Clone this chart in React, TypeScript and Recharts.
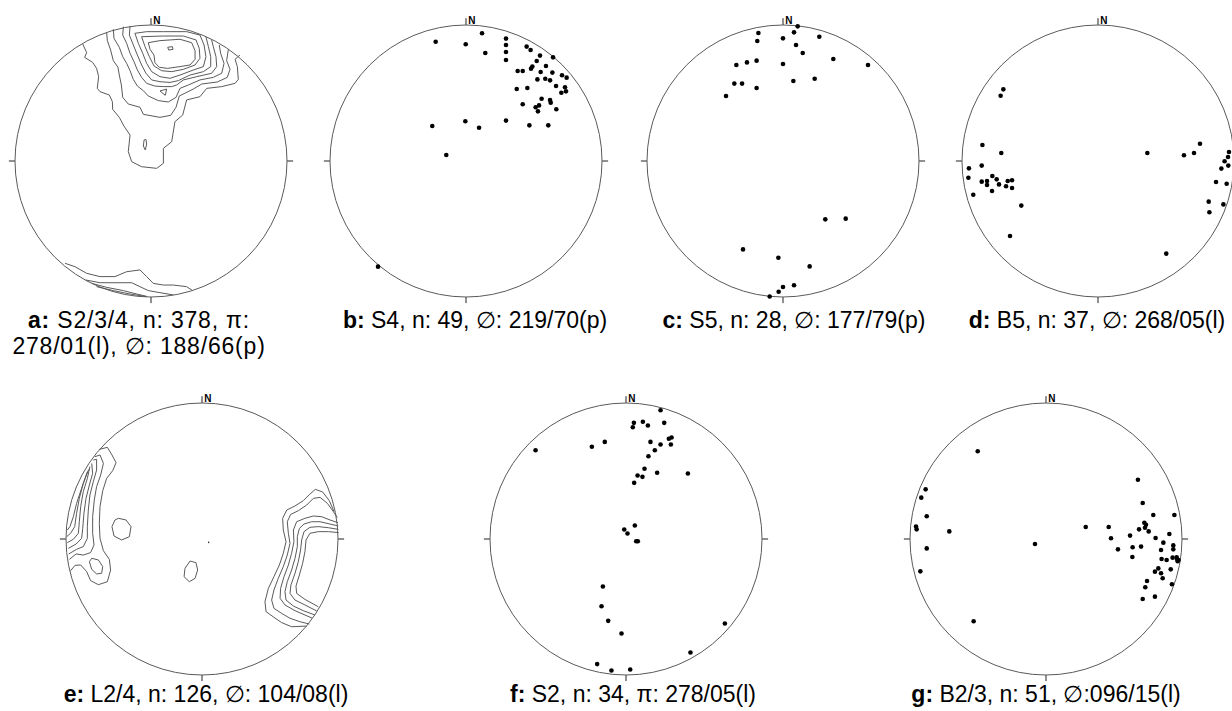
import { ScatterChart, Scatter, XAxis, YAxis, ReferenceDot, ReferenceLine } from 'recharts';

type P = [number, number];

// all plot coordinates are in % of the primitive radius, N up / E right

// b: S4 poles
const POINTS_B: P[] = [
  [-22.3, 87.7], [-0.2, 85.8], [11.8, 93.9], [14.2, 79.4], [29.4, 90.0], [29.4, 85.3], [29.4, 80.1], [29.4, 74.3],
  [44.6, 84.1], [47.5, 81.6], [54.4, 77.5], [64.0, 76.2], [52.0, 73.5], [48.8, 69.4], [47.8, 67.9], [58.8, 69.9],
  [38.0, 66.2], [41.7, 66.2], [54.9, 65.4], [63.5, 65.0], [70.6, 63.0], [74.0, 61.3], [52.5, 60.0], [58.3, 60.5],
  [61.8, 59.3], [66.2, 55.1], [72.8, 54.2], [73.5, 51.2], [70.1, 50.2], [37.3, 52.9], [45.1, 53.7], [55.6, 45.8],
  [61.8, 44.9], [62.3, 42.9], [53.7, 40.9], [51.2, 39.5], [52.9, 36.5], [66.4, 38.0], [41.7, 41.7], [29.4, 29.7],
  [46.6, 26.2], [60.5, 26.2], [-0.5, 29.2], [9.6, 24.5], [-24.8, 25.7], [-14.5, 4.4], [-64.7, -77.7],
];

// c: S5 poles
const POINTS_C: P[] = [
  [-18.1, 94.1], [-18.9, 88.2], [0, 90.2], [8.1, 94.6], [10.8, 99.0], [26.7, 91.4], [9.6, 85.3], [14.5, 79.4],
  [37.0, 75.0], [62.5, 70.6], [-34.3, 70.6], [-26.5, 72.5], [-19.4, 73.8], [0, 71.3], [-35.8, 56.9], [-30.1, 56.9],
  [-19.4, 53.7], [7.6, 58.8], [23.3, 60.5], [-41.9, 47.8], [31.1, -42.9], [46.1, -42.4], [-29.4, -65.0],
  [-3.4, -71.1], [19.6, -77.5], [8.1, -91.4], [0, -92.6], [-3.2, -96.1], [-9.8, -99.6],
];

// d: B5 fold axes
const POINTS_D: P[] = [
  [-69.6, 52.7], [-71.6, 48.0], [-85.0, 11.8], [-71.1, 5.9], [-85.5, -3.4], [-94.9, -5.4], [-95.3, -12.3],
  [-91.7, -24.8], [-85.5, -15.2], [-81.6, -14.7], [-81.6, -17.6], [-77.7, -11.0], [-74.5, -13.5], [-77.9, -22.1],
  [-72.8, -17.2], [-67.6, -18.6], [-66.4, -14.7], [-63.2, -14.2], [-63.2, -19.9], [-56.4, -32.8], [-64.7, -55.1],
  [36.3, 5.9], [63.2, 4.2], [70.6, 5.9], [75.0, 12.7], [96.3, 6.6], [95.6, 2.9], [93.1, -0.2], [95.8, -3.4],
  [90.7, -5.6], [86.8, -15.4], [94.6, -16.7], [81.4, -29.9], [81.9, -37.7], [92.2, -31.9], [50.2, -68.1],
];

// f: S2 poles
const POINTS_F: P[] = [
  [25.4, 94.7], [5.8, 85.4], [5.0, 82.2], [12.4, 86.2], [16.1, 83.5], [28.1, 85.4], [31.5, 73.7], [33.5, 74.6],
  [33.0, 69.5], [25.4, 69.5], [18.0, 71.4], [21.2, 65.3], [16.5, 60.9], [-15.6, 71.4], [-25.1, 67.8], [-66.5, 65.3],
  [13.6, 51.6], [8.5, 46.7], [12.1, 45.7], [22.9, 48.7], [6.0, 41.3], [45.5, 48.2], [6.5, 9.9], [-1.3, 7.0],
  [1.1, 4.0], [7.5, -1.6], [8.7, -1.6], [-17.0, -34.9], [-18.0, -49.4], [-13.1, -60.2], [-3.3, -69.5],
  [72.7, -62.1], [47.4, -83.5], [-21.2, -92.0], [-10.7, -96.7], [3.1, -96.0],
];

// g: B2/3 fold axes
const POINTS_G: P[] = [
  [-50.2, 64.5], [-88.5, 36.5], [-91.7, 30.4], [-87.7, 16.7], [-95.6, 9.1], [-95.1, 7.1], [-71.1, 5.6],
  [-87.7, -6.9], [-92.4, -23.8], [-8.1, -3.7], [-53.2, -60.5], [29.2, 8.8], [46.1, 8.8], [47.8, 0.5], [52.9, -7.6],
  [61.8, 2.5], [63.7, -6.1], [63.5, -13.2], [67.6, 43.6], [71.1, 26.5], [72.3, 12.0], [73.5, 10.5], [72.8, 8.3],
  [75.5, 5.6], [68.4, 7.1], [69.9, -5.6], [78.9, 17.6], [80.6, 0.7], [86.3, -2.7], [90.7, 3.7], [94.4, 17.6],
  [93.6, -4.7], [93.6, -7.6], [84.6, -8.1], [85.0, -14.7], [88.7, -15.4], [93.1, -13.7], [96.1, -13.5],
  [96.8, -16.4], [91.7, -22.3], [82.6, -21.6], [80.1, -24.0], [84.6, -25.2], [85.8, -28.9], [74.3, -30.9],
  [73.0, -35.5], [71.1, -44.1], [80.1, -42.4], [92.6, -33.3], [97.5, -15.4], [96.3, -14.7],
];

// a: S2/3/4 density contours
const A_L1: P[] = [
  [-50.2, 86.0], [-47.3, 79.7], [-48.8, 76.2], [-42.9, 72.5], [-40.0, 68.1], [-38.5, 62.0], [-39.5, 53.4],
  [-37.5, 51.0], [-30.6, 48.5], [-28.4, 43.6], [-28.2, 38.0], [-23.3, 32.1], [-19.9, 25.7], [-15.4, 19.1],
  [-16.7, 6.9], [-14.2, -0.5], [-6.9, -4.2], [4.2, -5.4], [9.1, -1.7], [9.1, 9.3], [15.2, 14.2], [17.6, 28.9],
  [23.3, 33.8], [26.2, 44.9], [36.0, 47.3], [40.9, 53.4], [52.0, 54.7], [61.8, 57.1], [64.2, 60.0], [63.5, 69.4],
  [61.8, 74.8], [65.4, 77.9],
];
const A_L2: P[] = [
  [-32.6, 94.4], [-32.1, 88.5], [-29.7, 81.6], [-27.7, 73.8], [-24.3, 68.9], [-23.3, 63.2], [-21.8, 55.9],
  [-20.8, 46.8], [-16.7, 41.9], [-8.1, 39.5], [-5.6, 34.3], [6.6, 32.1], [14.5, 33.6], [18.4, 39.5], [20.8, 47.8],
  [31.1, 52.9], [37.3, 56.6], [48.8, 58.1], [56.1, 61.5], [58.1, 67.4], [55.6, 73.8], [56.9, 82.1],
];
const A_L3: P[] = [
  [-27.7, 96.8], [-27.2, 90.2], [-23.3, 83.6], [-20.8, 76.7], [-17.9, 71.8], [-15.4, 66.4], [-13.0, 60.0],
  [-10.0, 55.1], [-5.6, 51.7], [-2.0, 47.8], [5.4, 44.4], [12.7, 43.4], [18.4, 46.8], [21.3, 53.4], [27.5, 55.9],
  [36.0, 59.6], [45.8, 61.5], [52.0, 64.5], [53.7, 71.8], [51.2, 79.2], [50.2, 85.3],
];
const A_L4: P[] = [
  [-20.3, 98.8], [-20.8, 92.6], [-17.9, 86.5], [-15.4, 79.2], [-12.5, 73.0], [-10.0, 66.9], [-6.9, 61.5],
  [-3.2, 57.1], [2.9, 55.1], [9.1, 54.7], [15.2, 54.7], [18.9, 55.9], [23.8, 59.6], [33.6, 62.0], [44.6, 64.5],
  [48.3, 69.4], [47.8, 76.7], [45.8, 84.1], [44.6, 89.0],
];
const A_L5: P[] = [
  [-15.4, 99.3], [-15.9, 92.6], [-13.0, 85.3], [-10.0, 77.9], [-6.9, 70.6], [-3.7, 64.5], [0.5, 59.6],
  [6.6, 58.3], [14.0, 57.8], [20.1, 59.1], [28.7, 63.2], [38.5, 65.7], [43.9, 69.4], [43.9, 76.7], [42.2, 84.1],
  [40.4, 91.4],
];
const A_L6: P[] = [
  [-11.8, 93.9], [-9.3, 86.5], [-6.1, 79.2], [-3.2, 71.8], [0.5, 65.7], [6.6, 62.0], [14.0, 60.8], [21.3, 63.2],
  [31.1, 66.9], [38.5, 69.4], [40.4, 76.7], [39.0, 85.3], [36.0, 92.6], [26.2, 95.1], [9.1, 95.1], [-3.2, 95.1],
  [-11.8, 93.9],
];
const A_L7: P[] = [
  [-6.9, 91.4], [-4.4, 84.1], [-1.2, 76.7], [2.2, 69.9], [7.8, 66.4], [15.2, 65.7], [23.8, 67.4], [32.4, 70.6],
  [36.0, 75.5], [35.5, 82.8], [33.1, 89.0], [23.8, 91.9], [9.1, 91.9], [-6.9, 91.4],
];
const A_L8: P[] = [
  [-2.0, 87.0], [6.6, 88.5], [21.3, 89.5], [29.9, 87.0], [32.4, 81.1], [32.4, 74.8], [28.7, 70.6], [21.3, 69.4],
  [12.0, 68.1], [6.1, 68.9], [2.9, 72.3], [2.2, 77.9], [-0.7, 82.1], [-2.0, 87.0],
];
const A_PEAK: P[] = [[12.3, 83.6], [15.7, 84.1], [16.2, 82.1], [13.0, 81.6], [12.3, 83.6]];
const A_TRI: P[] = [[6.6, 51.5], [11.5, 52.9], [10.5, 48.3], [6.6, 51.5]];
const A_STEM: P[] = [[-5.1, 15.4], [-3.7, 15.9], [-3.2, 12.5], [-4.2, 8.1], [-5.6, 11.0], [-5.1, 15.4]];
const A_S1: P[] = [
  [-63.2, -75.2], [-55.9, -77.7], [-47.3, -82.6], [-37.5, -85.0], [-26.5, -85.0], [-17.9, -81.4], [-8.1, -80.1],
  [-3.2, -85.0], [1.7, -90.0], [9.1, -91.2], [16.4, -91.2], [26.2, -92.4], [30.6, -95.3],
];
const A_S2: P[] = [
  [-48.0, -87.5], [-37.5, -89.5], [-26.5, -89.5], [-14.2, -89.5], [-8.1, -92.4], [-2.0, -95.3], [6.6, -96.8],
  [16.4, -98.5],
];
const A_S3: P[] = [[-43.6, -90.0], [-32.6, -92.9], [-20.3, -95.3], [-10.5, -97.8], [-3.2, -99.5]];
const A_S4: P[] = [[-40.0, -92.4], [-27.7, -95.3], [-15.4, -97.8], [-3.2, -99.8]];

// e: L2/4 density contours
const E_W1: P[] = [
  [-75.5, 65.9], [-69.6, 67.4], [-66.2, 61.8], [-63.2, 56.1], [-65.7, 50.2], [-70.1, 44.6], [-73.0, 35.5],
  [-75.0, 23.8], [-75.5, 11.5], [-75.0, 0.5], [-72.5, -8.6], [-68.1, -15.0], [-67.2, -22.8], [-69.6, -31.4],
  [-76.2, -33.6], [-81.9, -30.6], [-84.8, -24.0], [-89.2, -19.1], [-93.4, -19.4], [-96.6, -23.3],
];
const E_W2: P[] = [
  [-78.7, 60.5], [-75.0, 61.8], [-72.5, 55.6], [-74.5, 47.1], [-77.5, 38.5], [-79.2, 28.7], [-80.4, 16.4],
  [-80.4, 4.2], [-79.4, -4.4], [-81.9, -10.0], [-87.3, -11.8], [-92.6, -11.0], [-97.5, -15.0],
];
const E_W3: P[] = [
  [-79.9, 58.1], [-77.5, 58.6], [-77.5, 50.7], [-79.9, 42.2], [-82.4, 32.4], [-83.6, 21.3], [-84.3, 9.1],
  [-84.3, 0.5], [-87.3, -5.6], [-92.2, -7.6], [-98.0, -11.0],
];
const E_W4: P[] = [
  [-81.1, 55.6], [-80.4, 48.3], [-82.8, 39.7], [-85.3, 29.9], [-86.8, 18.9], [-87.7, 7.8], [-88.5, 0.5],
  [-92.6, -3.7], [-98.3, -6.9],
];
const E_W5: P[] = [
  [-82.4, 53.2], [-84.3, 44.6], [-87.3, 34.8], [-89.2, 23.8], [-90.2, 12.7], [-90.9, 4.2], [-94.6, -0.2],
  [-99.0, -2.7],
];
const E_W6: P[] = [[-83.3, 51.2], [-87.3, 40.9], [-90.2, 29.9], [-92.2, 18.9], [-93.6, 9.1], [-96.6, 4.2], [-99.5, 1.7]];
const E_W7: P[] = [[-84.3, 49.5], [-88.5, 37.3], [-92.2, 26.2], [-94.6, 16.4], [-97.1, 9.1], [-99.0, 6.6]];
const E_WLOOP: P[] = [
  [-81.1, -14.2], [-76.2, -15.4], [-73.0, -20.3], [-73.8, -25.2], [-77.5, -25.7], [-81.1, -22.3], [-82.8, -16.7],
  [-81.1, -14.2],
];
const E_MID1: P[] = [
  [-61.5, 15.2], [-55.9, 14.0], [-52.2, 9.1], [-53.4, 1.7], [-59.1, -0.7], [-64.7, 2.2], [-66.2, 9.1], [-64.0, 14.0],
  [-61.5, 15.2],
];
const E_MID2: P[] = [
  [-8.8, -16.2], [-4.4, -17.4], [-3.2, -22.8], [-5.1, -28.9], [-9.3, -31.4], [-13.2, -27.7], [-12.5, -21.6],
  [-8.8, -16.2],
];
const E_E1: P[] = [
  [97.1, 20.1], [93.6, 28.2], [88.7, 34.6], [83.3, 36.5], [78.9, 32.6], [74.5, 28.2], [68.4, 24.3], [62.3, 21.3],
  [59.3, 15.2], [59.8, 6.6], [61.8, -2.0], [59.8, -10.5], [56.9, -19.1], [52.9, -27.7], [48.8, -36.3],
  [46.3, -46.1], [47.1, -53.4], [52.9, -57.6], [58.6, -61.5], [65.9, -64.5], [77.0, -64.0],
];
const E_E2: P[] = [
  [99.5, 15.9], [96.6, 20.1], [92.2, 26.2], [86.8, 30.6], [81.9, 29.9], [77.0, 25.0], [70.8, 20.8], [65.2, 18.1],
  [62.7, 12.7], [63.5, 4.2], [64.7, -3.2], [62.7, -11.8], [59.8, -20.3], [56.1, -28.9], [52.9, -37.5],
  [51.2, -44.9], [52.9, -51.0], [58.6, -54.7], [64.7, -58.3], [72.0, -60.8], [78.9, -62.5],
];
const E_E3: P[] = [
  [100.0, 12.0], [94.1, 14.0], [88.0, 16.4], [81.9, 16.9], [75.7, 15.2], [69.6, 12.7], [67.2, 6.6], [67.6, -2.0],
  [65.9, -10.5], [63.5, -19.1], [60.3, -27.7], [57.8, -36.3], [57.4, -43.6], [61.0, -48.5], [68.4, -52.7],
  [75.7, -55.9], [80.9, -58.1],
];
const E_E4: P[] = [
  [100.2, 9.6], [94.1, 11.0], [86.8, 12.7], [80.6, 12.7], [75.0, 11.0], [71.6, 7.8], [70.1, 1.7], [70.1, -5.6],
  [68.4, -14.2], [65.9, -22.8], [62.7, -31.4], [61.0, -38.7], [61.8, -44.9], [67.2, -49.3], [74.5, -52.7],
  [83.1, -55.9],
];
const E_E5: P[] = [
  [100.2, 7.1], [92.9, 8.3], [85.5, 9.1], [79.4, 8.6], [75.0, 5.4], [73.3, -0.7], [72.5, -8.1], [70.8, -16.7],
  [68.4, -25.2], [65.4, -33.8], [64.7, -40.0], [68.4, -44.9], [75.7, -48.5], [84.3, -52.9],
];
const E_E6: P[] = [
  [100.5, 4.7], [92.9, 5.4], [85.5, 5.4], [79.4, 4.2], [76.5, -0.7], [75.7, -9.3], [74.0, -17.9], [71.6, -26.5],
  [69.1, -34.6], [69.6, -40.0], [75.7, -44.4], [85.5, -49.8],
];
const E_SPECK: P[] = [[4.9, -2.5]];

const CONTOURS_A = [A_L1, A_L2, A_L3, A_L4, A_L5, A_L6, A_L7, A_L8, A_PEAK, A_TRI, A_STEM, A_S1, A_S2, A_S3, A_S4];
const CONTOURS_E = [
  E_W1, E_W2, E_W3, E_W4, E_W5, E_W6, E_W7, E_WLOOP, E_MID1, E_MID2, E_E1, E_E2, E_E3, E_E4, E_E5, E_E6,
];

const R_PX = 136;
const SIZE = 300;
const HALF = ((SIZE / 2) * 100) / R_PX;
const LINE = '#5a5a5a';

const xy = (pts: P[]) => pts.map(([x, y]) => ({ x, y }));

function Net({ cx, cy, points = [], contours = [], specks = [] }: {
  cx: number; cy: number; points?: P[]; contours?: P[][]; specks?: P[];
}) {
  return (
    <div style={{ position: 'absolute', left: cx - SIZE / 2, top: cy - SIZE / 2, width: SIZE, height: SIZE }}>
      <ScatterChart width={SIZE} height={SIZE} margin={{ top: 0, right: 0, bottom: 0, left: 0 }}>
        <XAxis type="number" dataKey="x" domain={[-HALF, HALF]} hide allowDataOverflow />
        <YAxis type="number" dataKey="y" domain={[-HALF, HALF]} hide allowDataOverflow />
        <ReferenceDot x={0} y={0} r={R_PX} fill="none" stroke={LINE} strokeWidth={1} />
        <ReferenceLine segment={[{ x: 0, y: 100 }, { x: 0, y: 105 }]} stroke="#222" ifOverflow="visible" />
        <ReferenceLine segment={[{ x: 0, y: -100 }, { x: 0, y: -104.5 }]} stroke="#222" ifOverflow="visible" />
        <ReferenceLine segment={[{ x: 100, y: 0 }, { x: 104.5, y: 0 }]} stroke="#222" ifOverflow="visible" />
        <ReferenceLine segment={[{ x: -100, y: 0 }, { x: -104.5, y: 0 }]} stroke="#222" ifOverflow="visible" />
        <ReferenceDot
          x={4.4}
          y={103.6}
          r={0}
          fill="none"
          stroke="none"
          label={{ value: 'N', position: 'center', fontSize: 10, fontWeight: 700, fill: '#000' }}
        />
        {contours.map((c, i) => (
          <Scatter
            key={i}
            data={xy(c)}
            line={{ stroke: LINE, strokeWidth: 1 }}
            lineType="joint"
            shape={() => <g />}
            isAnimationActive={false}
          />
        ))}
        {specks.length > 0 && (
          <Scatter
            data={xy(specks)}
            shape={(p: any) => <circle cx={p.cx} cy={p.cy} r={0.8} fill="#333" />}
            isAnimationActive={false}
          />
        )}
        <Scatter
          data={xy(points)}
          shape={(p: any) => <circle cx={p.cx} cy={p.cy} r={2.3} fill="#000" />}
          isAnimationActive={false}
        />
      </ScatterChart>
    </div>
  );
}

function Caption({ x, top, spacing = 0, children }: {
  x: number; top: number; spacing?: number; children: React.ReactNode;
}) {
  return (
    <div
      style={{
        position: 'absolute',
        left: x - 200,
        top,
        width: 400,
        textAlign: 'center',
        fontSize: 23,
        lineHeight: '26px',
        letterSpacing: spacing,
        color: '#000',
        whiteSpace: 'nowrap',
      }}
    >
      {children}
    </div>
  );
}

export default function App() {
  return (
    <div
      style={{
        position: 'absolute',
        left: 0,
        top: 0,
        width: 1232,
        height: 711,
        overflow: 'hidden',
        background: '#fff',
        fontFamily: 'Arial, "Liberation Sans", Helvetica, sans-serif',
      }}
    >
      <Net cx={151} cy={161} contours={CONTOURS_A} />
      <Net cx={466} cy={161} points={POINTS_B} />
      <Net cx={783} cy={161} points={POINTS_C} />
      <Net cx={1098} cy={161} points={POINTS_D} />
      <Net cx={202} cy={539} contours={CONTOURS_E} specks={E_SPECK} />
      <Net cx={625.5} cy={539} points={POINTS_F} />
      <Net cx={1046} cy={539} points={POINTS_G} />

      <Caption x={139} top={307} spacing={0.8}>
        <b>a:</b> S2/3/4, n: 378, π:<br />278/01(l), ∅: 188/66(p)
      </Caption>
      <Caption x={475} top={307}>
        <b>b:</b> S4, n: 49, ∅: 219/70(p)
      </Caption>
      <Caption x={794} top={307}>
        <b>c:</b> S5, n: 28, ∅: 177/79(p)
      </Caption>
      <Caption x={1097} top={307}>
        <b>d:</b> B5, n: 37, ∅: 268/05(l)
      </Caption>
      <Caption x={206} top={681}>
        <b>e:</b> L2/4, n: 126, ∅: 104/08(l)
      </Caption>
      <Caption x={633} top={681}>
        <b>f:</b> S2, n: 34, π: 278/05(l)
      </Caption>
      <Caption x={1046} top={681}>
        <b>g:</b> B2/3, n: 51, ∅:096/15(l)
      </Caption>
    </div>
  );
}
